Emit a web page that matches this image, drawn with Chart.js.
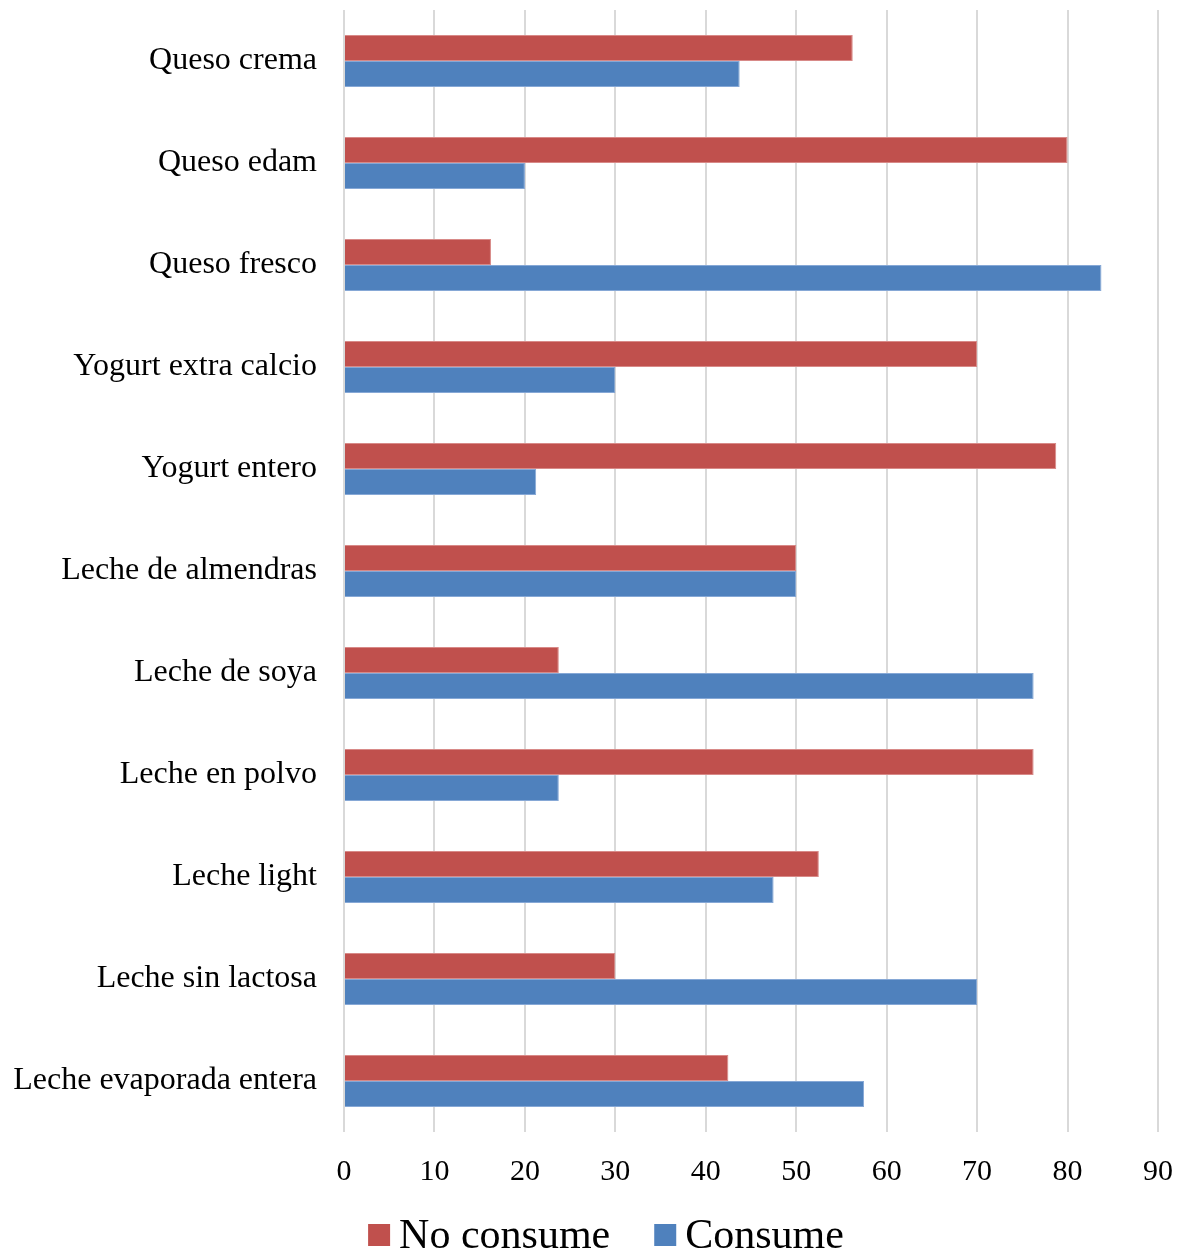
<!DOCTYPE html>
<html>
<head>
<meta charset="utf-8">
<script src="https://cdn.jsdelivr.net/npm/chart.js@4"></script>
<style>
html,body{margin:0;padding:0;background:#fff;}
#wrap{width:1182px;height:1255px;}
</style>
</head>
<body>
<div id="wrap"><canvas id="c" width="1182" height="1255"></canvas></div>
<script>
const categories = ["Queso crema","Queso edam","Queso fresco","Yogurt extra calcio","Yogurt entero","Leche de almendras","Leche de soya","Leche en polvo","Leche light","Leche sin lactosa","Leche evaporada entera"];
const noConsume = [56.25, 80, 16.25, 70, 78.75, 50, 23.75, 76.25, 52.5, 30, 42.5];
const consume = [43.75, 20, 83.75, 30, 21.25, 50, 76.25, 23.75, 47.5, 70, 57.5];
const seriesNames = ["No consume","Consume"];
const xTicks = [0,10,20,30,40,50,60,70,80,90];

const FONT = "'Liberation Serif','Times New Roman',serif";

const customLegend = {
  id: 'customLegend',
  afterDraw(chart) {
    const ctx = chart.ctx;
    const ds = chart.data.datasets;
    const fontPx = 42, box = 22, gapBox = 9, gapItem = 44;
    ctx.save();
    ctx.font = fontPx + 'px ' + FONT;
    const widths = ds.map(d => ctx.measureText(d.label).width);
    let total = 0;
    widths.forEach((w, i) => { total += box + gapBox + w + (i < widths.length - 1 ? gapItem : 0); });
    let x = 606 - total / 2;
    const baseline = 1248;
    ds.forEach((d, i) => {
      ctx.fillStyle = d.backgroundColor;
      ctx.fillRect(x, baseline - 24, box, box);
      x += box + gapBox;
      ctx.fillStyle = '#000';
      ctx.textBaseline = 'alphabetic';
      ctx.textAlign = 'left';
      ctx.fillText(d.label, x, baseline);
      x += widths[i] + gapItem;
    });
    ctx.restore();
  }
};

new Chart(document.getElementById('c'), {
  type: 'bar',
  data: {
    labels: categories,
    datasets: [
      {label: seriesNames[0], data: noConsume, backgroundColor: '#C0504D', borderColor: '#D88A88', borderWidth: 1},
      {label: seriesNames[1], data: consume, backgroundColor: '#4F81BD', borderColor: '#86A8D6', borderWidth: 1}
    ]
  },
  plugins: [customLegend],
  options: {
    indexAxis: 'y',
    responsive: false,
    animation: false,
    datasets: {bar: {categoryPercentage: 0.51, barPercentage: 1.0}},
    layout: {padding: {top: 10, right: 24, left: 0, bottom: 63}},
    scales: {
      x: {
        min: 0, max: 90,
        afterBuildTicks: (s) => { s.ticks = xTicks.map(v => ({value: v})); },
        grid: {color: '#D9D9D9', lineWidth: 2, drawTicks: false},
        border: {display: false},
        ticks: {color: '#000', font: {family: FONT, size: 30}, padding: 22},
        afterFit: (s) => { s.height = 60; s.paddingLeft = 0; s.paddingRight = 0; }
      },
      y: {
        grid: {display: false, drawTicks: false},
        border: {display: false},
        ticks: {color: '#000', font: {family: FONT, size: 32}, padding: 27},
        afterFit: (s) => { s.width = 344; s.paddingTop = 0; s.paddingBottom = 0; }
      }
    },
    plugins: {
      legend: {display: false},
      tooltip: {enabled: false}
    }
  }
});
</script>
</body>
</html>
